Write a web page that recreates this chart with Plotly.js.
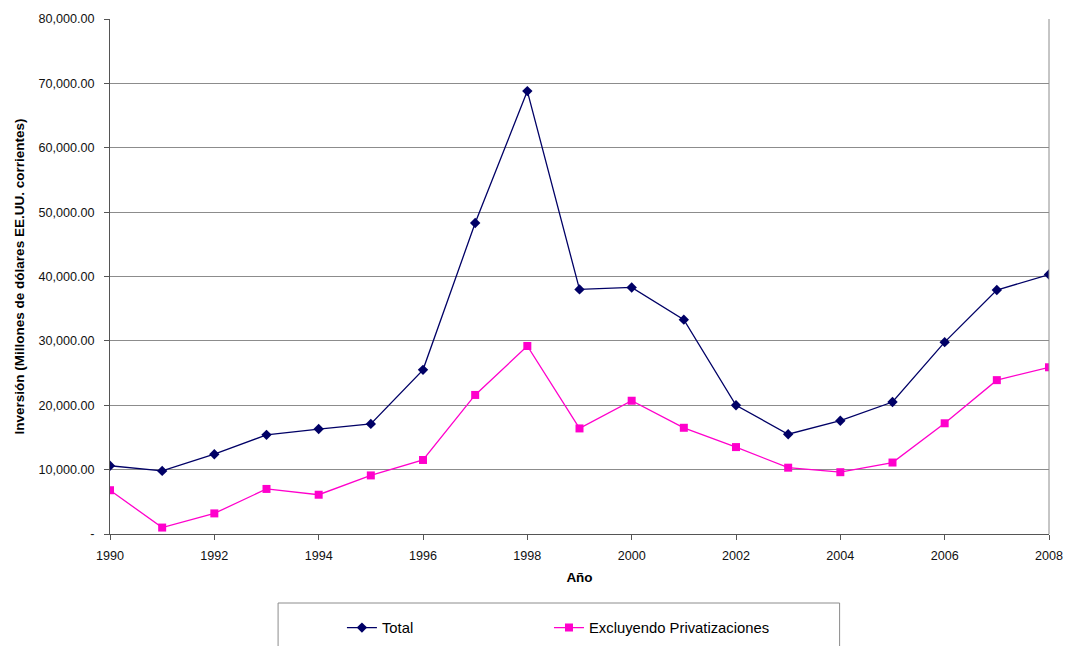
<!DOCTYPE html>
<html>
<head>
<meta charset="utf-8">
<script src="https://cdn.plot.ly/plotly-3.0.1.min.js"></script>
<style>html,body{margin:0;padding:0;background:#fff;}#chart{width:1065px;height:646px;}</style>
</head>
<body>
<div id="chart"></div>
<script>
const years = [1990,1991,1992,1993,1994,1995,1996,1997,1998,1999,2000,2001,2002,2003,2004,2005,2006,2007,2008];
const total = [10600,9800,12400,15400,16300,17100,25500,48300,68800,38000,38300,33300,20000,15500,17600,20500,29800,37900,40300];
const excluyendo = [6800,1000,3200,7000,6100,9100,11500,21600,29200,16400,20700,16500,13500,10300,9600,11100,17200,23900,25900];
const yTickVals = [0,10000,20000,30000,40000,50000,60000,70000,80000];
const yTickText = ["-","10,000.00","20,000.00","30,000.00","40,000.00","50,000.00","60,000.00","70,000.00","80,000.00"];
const xTickVals = [1990,1992,1994,1996,1998,2000,2002,2004,2006,2008];
const seriesNames = ["Total","Excluyendo Privatizaciones"];

const fam = "Liberation Sans, Arial, sans-serif";
const tickFont = {family: fam, size: 12.6, color: "#111"};
const titleFont = {family: fam, size: 13.5, color: "#000"};
const legendFont = {family: fam, size: 14.8, color: "#000"};

const traces = [
  {x: years, y: total, name: seriesNames[0], type: "scatter", mode: "lines+markers", legend: "legend",
   line: {color: "#000066", width: 1.3}, marker: {symbol: "diamond", size: 8, color: "#000066"}},
  {x: years, y: excluyendo, name: seriesNames[1], type: "scatter", mode: "lines+markers", legend: "legend2",
   line: {color: "#ff00cc", width: 1.3}, marker: {symbol: "square", size: 8, color: "#ff00cc"}}
];

const layout = {
  width: 1065, height: 646,
  margin: {l: 110, r: 16, t: 19, b: 112, autoexpand: false},
  paper_bgcolor: "#fff", plot_bgcolor: "#fff",
  font: tickFont,
  showlegend: true,
  xaxis: {
    range: [1990, 2008], tickvals: xTickVals, ticktext: xTickVals.map(String),
    showgrid: false, zeroline: false, showline: true, linecolor: "#555", linewidth: 1,
    ticks: "outside", ticklen: 5, tickcolor: "#555", tickfont: tickFont, ticklabelstandoff: 5,
    title: {text: "<b>Año</b>", font: titleFont, standoff: 10}
  },
  yaxis: {
    range: [0, 80000], tickvals: yTickVals, ticktext: yTickText,
    showgrid: true, gridcolor: "#8c8c8c", gridwidth: 1, zeroline: false,
    showline: true, linecolor: "#555", linewidth: 1,
    ticks: "outside", ticklen: 5, tickcolor: "#555", tickfont: tickFont, ticklabelstandoff: 7,
    title: {text: "<b>Inversión (Millones de dólares EE.UU. corrientes)</b>", font: titleFont, standoff: 10}
  },
  legend: {
    orientation: "h", x: 0.247, xanchor: "left", y: -0.1825, yanchor: "middle",
    bgcolor: "rgba(0,0,0,0)", borderwidth: 0, font: legendFont, itemwidth: 30
  },
  legend2: {
    orientation: "h", x: 0.4675, xanchor: "left", y: -0.1825, yanchor: "middle",
    bgcolor: "rgba(0,0,0,0)", borderwidth: 0, font: legendFont, itemwidth: 30
  },
  shapes: [
    {type: "line", xref: "paper", yref: "paper", x0: 1, x1: 1, y0: 0, y1: 1, line: {color: "#8c8c8c", width: 1}},
    {type: "rect", xref: "paper", yref: "paper", x0: 0.179, x1: 0.777, y0: -0.225, y1: -0.134, line: {color: "#8c8c8c", width: 1}, fillcolor: "rgba(0,0,0,0)"}
  ]
};

Plotly.newPlot("chart", traces, layout, {displayModeBar: false, staticPlot: true});
</script>
</body>
</html>
